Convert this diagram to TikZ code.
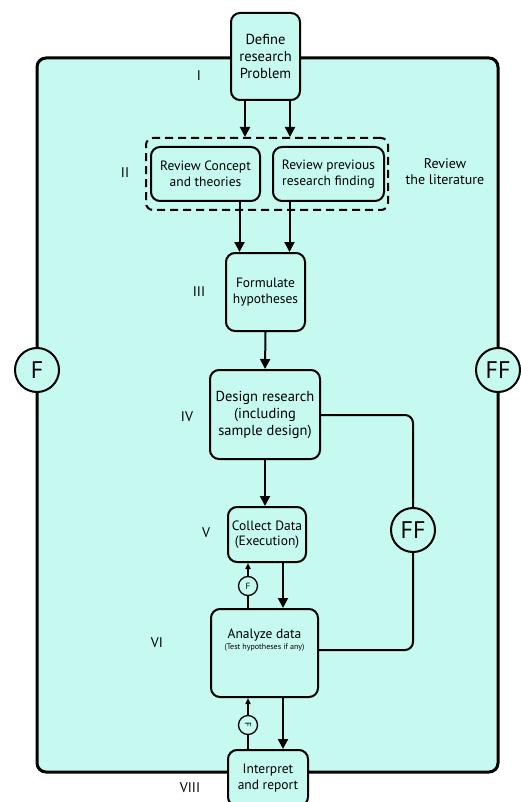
\documentclass[tikz,border=0pt]{standalone}
\usepackage{fontspec}
\setmainfont{PT Sans}
\usetikzlibrary{arrows.meta}
\definecolor{paleaqua}{HTML}{C6FAF0}
\tikzset{
  stage/.style={draw, line width=2pt, rounded corners=9pt, fill=paleaqua, align=center, inner sep=2pt, font=\fontsize{13.5}{15.5}\selectfont},
  bigstage/.style={stage, font=\fontsize{14.5}{17}\selectfont},
  flow/.style={line width=2pt, -{Triangle[length=10pt,width=10pt]}},
  back/.style={line width=1.5pt, -{Triangle[length=6pt,width=5pt]}},
  tag/.style={font=\fontsize{14}{16}\selectfont, align=center},
  fring/.style={draw, circle, line width=2pt, fill=paleaqua, inner sep=0pt, minimum size=44pt, font=\fontsize{24}{24}\selectfont},
  fdot/.style={draw, circle, line width=1.3pt, fill=paleaqua, inner sep=0pt, minimum size=19pt, font=\fontsize{9}{9}\selectfont},
}
\begin{document}
\begin{tikzpicture}[x=1pt,y=-1pt]
\useasboundingbox (0,0) rectangle (520,802);
\draw[line width=3pt, rounded corners=9pt, fill=paleaqua] (37,58) rectangle (498,772);
\node[fring] (fleft) at (37,370) {F};
\node[fring] (ffright) at (498,370) {FF};
\node[bigstage, minimum width=69pt, minimum height=87pt] (define) at (265.5,56.5) {Define\\research\\Problem};
\node[draw, dash pattern=on 8pt off 5pt, line width=2pt, rounded corners=7pt, minimum width=242pt, minimum height=72pt] (litbox) at (267,174) {};
\node[stage, minimum width=109pt, minimum height=54pt] (concept) at (205.5,174) {Review Concept\\and theories};
\node[stage, minimum width=111pt, minimum height=54pt] (previous) at (328.5,174) {Review previous\\research finding};
\node[stage, minimum width=79pt, minimum height=78pt] (formulate) at (265.5,292) {Formulate\\hypotheses};
\node[bigstage, minimum width=110pt, minimum height=89pt] (design) at (265,414.5) {Design research\\(including\\sample design)};
\node[stage, minimum width=78pt, minimum height=55pt] (collect) at (267,534.5) {Collect Data\\(Execution)};
\node[stage, minimum width=107pt, minimum height=88pt] (analyze) at (264.5,653) {Analyze data\\[-4pt]{\fontsize{8}{10}\selectfont(Test hypotheses if any)}\\[12pt]};
\node[stage, minimum width=80pt, minimum height=56pt] (interpret) at (268,778) {Interpret\\and report};
\node[fring] (ffloop) at (413,530) {FF};
\node[fdot] (fcollect) at (248,586) {F};
\node[fdot] (finterpret) at (248,725) {\rotatebox{-90}{F}};
\node[tag] (n1) at (199,76) {I};
\node[tag] (n2) at (125,173) {II};
\node[tag] (n3) at (199,292) {III};
\node[tag] (n4) at (187,417) {IV};
\node[tag] (n5) at (206,533) {V};
\node[tag] (n6) at (157,643) {VI};
\node[tag] (n8) at (190,788) {VIII};
\node[tag] (litlabel) at (445,172) {Review\\the literature};
\coordinate (d1) at ([xshift=-20.5pt]define.south);
\coordinate (d2) at ([xshift=24.5pt]define.south);
\coordinate (h1) at ([xshift=-26pt]formulate.north);
\coordinate (h2) at ([xshift=24pt]formulate.north);
\coordinate (c1) at ([xshift=16pt]collect.south);
\coordinate (a1) at ([xshift=18.5pt]analyze.south);
\draw[flow] (d1) -- (d1 |- litbox.north);
\draw[flow] (d2) -- (d2 |- litbox.north);
\draw[flow] (concept.south -| h1) -- (h1);
\draw[flow] (previous.south -| h2) -- (h2);
\draw[flow] (formulate.south) -- (design.north);
\draw[flow] (design.south) -- (design.south |- collect.north);
\draw[flow] (c1) -- (c1 |- analyze.north);
\draw[flow] (a1) -- (a1 |- interpret.north);
\draw[line width=1.5pt] (fcollect.south) -- (fcollect.south |- analyze.north);
\draw[back] (fcollect.north) -- (fcollect.north |- collect.south);
\draw[line width=1.5pt] (finterpret.south) -- (finterpret.south |- interpret.north);
\draw[back] (finterpret.north) -- (finterpret.north |- analyze.south);
\draw[line width=2pt, rounded corners=8pt] (design.east |- 0,415) -| (ffloop.north);
\draw[line width=2pt, rounded corners=8pt] (ffloop.south) |- (analyze.east |- 0,650);
\end{tikzpicture}
\end{document}
